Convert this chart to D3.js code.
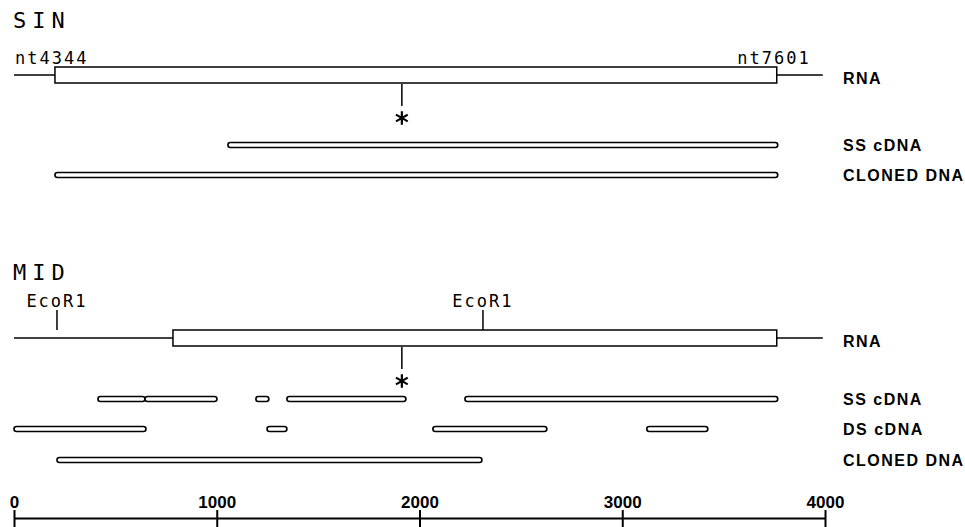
<!DOCTYPE html>
<html lang="en">
<head>
<meta charset="UTF-8">
<title>SIN / MID map</title>
<script src="https://d3js.org/d3.v7.min.js"></script>
<style>
  body { margin: 0; background: #fff; }
  .title { font-family: "DejaVu Sans Mono", monospace; font-size: 22px; letter-spacing: 6px; }
  .small { font-family: "DejaVu Sans Mono", monospace; font-size: 17px; letter-spacing: 2px; }
  .rowlab { font-family: "Liberation Sans", Arial, sans-serif; font-weight: bold; font-size: 16px; letter-spacing: 1.5px; }
  .axis text { font-family: "Liberation Sans", Arial, sans-serif; font-weight: bold; font-size: 17px; fill: #000; }
</style>
</head>
<body>
<div id="chart"></div>
<script>
// positions along the map (axis units, 0..4000)
var axisTicks = [0, 1000, 2000, 3000, 4000];

var sinRnaLine = [0, 3989];
var sinRnaBox = [202, 3762];
var sinMarker = 1913;
var sinEndLabels = ["nt4344", "nt7601"];
var sinSS = [[1055, 3767]];
var sinCloned = [[202, 3767]];
var sinRows = ["RNA", "SS cDNA", "CLONED DNA"];

var midRnaLine = [0, 3989];
var midRnaBox = [784, 3762];
var midMarker = 1913;
var midEcoR1 = [212, 2313];
var midSS = [[414, 646], [646, 1001], [1193, 1257], [1346, 1933], [2224, 3767]];
var midDS = [[0, 651], [1248, 1346], [2066, 2628], [3121, 3422]];
var midCloned = [[212, 2308]];
var midRows = ["RNA", "SS cDNA", "DS cDNA", "CLONED DNA"];

var width = 965, height = 527;

var svg = d3.select("#chart").append("svg")
    .attr("width", width)
    .attr("height", height);

var x = d3.scaleLinear().domain([0, 4000]).range([14, 825]);
var labelX = 843;

// vertical placement of each track
var rowY = {
  sinTitle: 28, sinRNA: 75, sinSS: 145, sinCloned: 175,
  midTitle: 280, midRNA: 338, midSS: 399, midDS: 429, midCloned: 460,
  axis: 518
};

function drawRna(g, line, box, y) {
  g.append("line")
    .attr("x1", x(line[0])).attr("x2", x(line[1]))
    .attr("y1", y).attr("y2", y)
    .attr("stroke", "#000").attr("stroke-width", 1.5);
  g.append("rect")
    .attr("x", x(box[0])).attr("y", y - 8)
    .attr("width", x(box[1]) - x(box[0])).attr("height", 16)
    .attr("fill", "#fff").attr("stroke", "#000").attr("stroke-width", 1.5);
}

function drawMarker(g, v, y) {
  // short drop line plus asterisk below the RNA box
  g.append("line")
    .attr("x1", x(v)).attr("x2", x(v))
    .attr("y1", y + 9).attr("y2", y + 31)
    .attr("stroke", "#000").attr("stroke-width", 1.5);
  g.append("path")
    .attr("transform", "translate(" + x(v) + "," + (y + 43) + ")")
    .attr("d", d3.symbol().type(d3.symbolAsterisk).size(130)())
    .attr("fill", "none").attr("stroke", "#000").attr("stroke-width", 2.2);
}

function drawBars(g, segs, y) {
  g.selectAll(null)
    .data(segs)
    .enter()
    .append("rect")
    .attr("x", function(d) { return x(d[0]); })
    .attr("y", y - 2.5)
    .attr("width", function(d) { return x(d[1]) - x(d[0]); })
    .attr("height", 5)
    .attr("rx", 2.5)
    .attr("fill", "#fff")
    .attr("stroke", "#000")
    .attr("stroke-width", 1.6);
}

function rowLabels(g, names, ys) {
  g.selectAll(null)
    .data(names)
    .enter()
    .append("text")
    .attr("class", "rowlab")
    .attr("x", labelX)
    .attr("y", function(d, i) { return ys[i]; })
    .attr("dy", "0.35em")
    .text(function(d) { return d; });
}

// ---- SIN ----
var sin = svg.append("g");
sin.append("text").attr("class", "title").attr("x", 13).attr("y", rowY.sinTitle).text("SIN");
sin.append("text").attr("class", "small")
  .attr("x", x(sinRnaLine[0]) + 1).attr("y", 64).text(sinEndLabels[0]);
sin.append("text").attr("class", "small").attr("text-anchor", "end")
  .attr("x", x(sinRnaLine[1]) - 12).attr("y", 64).text(sinEndLabels[1]);
drawRna(sin, sinRnaLine, sinRnaBox, rowY.sinRNA);
drawMarker(sin, sinMarker, rowY.sinRNA);
drawBars(sin, sinSS, rowY.sinSS);
drawBars(sin, sinCloned, rowY.sinCloned);
rowLabels(sin, sinRows, [rowY.sinRNA + 3, rowY.sinSS, rowY.sinCloned]);

// ---- MID ----
var mid = svg.append("g");
mid.append("text").attr("class", "title").attr("x", 13).attr("y", rowY.midTitle).text("MID");
mid.selectAll(null)
  .data(midEcoR1)
  .enter()
  .append("line")
  .attr("x1", function(d) { return x(d); })
  .attr("x2", function(d) { return x(d); })
  .attr("y1", rowY.midRNA - 28).attr("y2", rowY.midRNA - 8)
  .attr("stroke", "#000").attr("stroke-width", 1.5);
mid.selectAll(null)
  .data(midEcoR1)
  .enter()
  .append("text")
  .attr("class", "small")
  .attr("text-anchor", "middle")
  .attr("x", function(d) { return x(d); })
  .attr("y", rowY.midRNA - 31)
  .text("EcoR1");
drawRna(mid, midRnaLine, midRnaBox, rowY.midRNA);
drawMarker(mid, midMarker, rowY.midRNA);
drawBars(mid, midSS, rowY.midSS);
drawBars(mid, midDS, rowY.midDS);
drawBars(mid, midCloned, rowY.midCloned);
rowLabels(mid, midRows, [rowY.midRNA + 3, rowY.midSS, rowY.midDS, rowY.midCloned]);

// ---- scale bar ----
var axis = svg.append("g")
  .attr("class", "axis")
  .attr("transform", "translate(0," + rowY.axis + ")")
  .call(d3.axisTop(x).tickValues(axisTicks).tickSizeInner(8).tickSizeOuter(0).tickPadding(2).tickFormat(d3.format("d")));
axis.select(".domain").attr("stroke", "#000").attr("stroke-width", 2);
axis.selectAll(".tick line").attr("y1", 10).attr("y2", -8).attr("stroke", "#000").attr("stroke-width", 2);
</script>
</body>
</html>
